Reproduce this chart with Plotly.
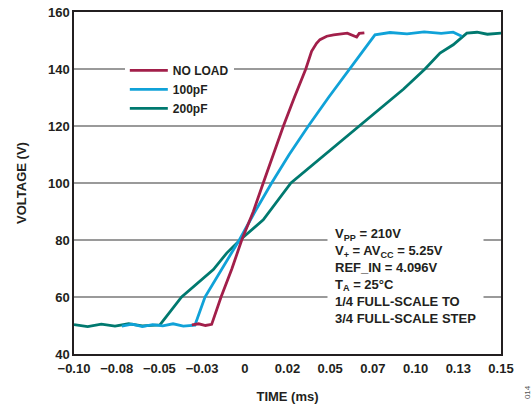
import plotly.graph_objects as go

# NO LOAD
t_noload = [-0.031, -0.027, -0.023, -0.0194, -0.0139, -0.0075, -0.0018, 0.005, 0.0108, 0.0165,
            0.0226, 0.029, 0.0357, 0.0391, 0.042, 0.044, 0.048, 0.052, 0.056, 0.060, 0.0655, 0.067, 0.070]
v_noload = [50.2, 50.6, 50.0, 50.4, 60, 70, 80, 90, 100, 110,
            120, 130, 140, 146.2, 149, 150.3, 151.5, 152, 152.3, 152.6, 151.2, 152.5, 152.7]

# 100pF
t_100pf = [-0.072, -0.066, -0.060, -0.054, -0.048, -0.042, -0.036, -0.0292, -0.0233, -0.013,
           -0.0032, 0.006, 0.0157, 0.026, 0.0372, 0.049, 0.0616, 0.069, 0.0762, 0.085,
           0.095, 0.105, 0.115, 0.122, 0.127]
v_100pf = [49.8, 50.5, 49.6, 50.3, 49.9, 50.6, 49.8, 50.1, 60, 70,
           80, 90, 100, 110, 120, 130, 140, 146, 152, 152.8,
           152.3, 153, 152.5, 152.9, 151.5]

# 200pF
t_200pf = [-0.100, -0.092, -0.084, -0.076, -0.068, -0.060, -0.0497, -0.037, -0.0184, -0.0106,
           -0.0028, 0.0108, 0.027, 0.047, 0.0665, 0.0792, 0.093, 0.1055, 0.1143, 0.122,
           0.130, 0.136, 0.142, 0.150]
v_200pf = [50.3, 49.6, 50.5, 49.8, 50.6, 49.9, 50.2, 60, 69.6, 75.4,
           80, 87.1, 100, 110, 120, 126.3, 133, 140, 145.6, 148.5,
           152.6, 152.9, 152.2, 152.6]

x_tickvals = [-0.1, -0.075, -0.05, -0.025, 0, 0.025, 0.05, 0.075, 0.1, 0.125, 0.15]
x_ticktext = ["−0.10", "−0.08", "−0.05", "−0.03", "0", "0.02", "0.05", "0.07", "0.10", "0.13", "0.15"]
y_tickvals = [40, 60, 80, 100, 120, 140, 160]

FONT = "Liberation Sans, Arial, sans-serif"
TXT = "#231F20"

fig = go.Figure()
fig.add_trace(go.Scatter(x=t_200pf, y=v_200pf, mode="lines", name="200pF",
                         line=dict(color="#00796F", width=2.8)))
fig.add_trace(go.Scatter(x=t_100pf, y=v_100pf, mode="lines", name="100pF",
                         line=dict(color="#10A2D8", width=2.8)))
fig.add_trace(go.Scatter(x=t_noload, y=v_noload, mode="lines", name="NO LOAD",
                         line=dict(color="#A21F4A", width=2.8)))

fig.update_layout(
    width=532, height=406,
    margin=dict(l=74, r=31, t=12, b=52),
    paper_bgcolor="white", plot_bgcolor="white",
    font=dict(family=FONT, size=13, color=TXT, weight="bold"),
    showlegend=True,
    legend=dict(x=0.119, y=0.872, xanchor="left", yanchor="top",
                bgcolor="white", borderwidth=0, traceorder="reversed",
                itemwidth=38, font=dict(size=12, family=FONT, color=TXT, weight="bold")),
    xaxis=dict(range=[-0.1, 0.15], tickvals=x_tickvals, ticktext=x_ticktext,
               showgrid=False, zeroline=False, ticks="", automargin=False, ticklabelstandoff=2,
               showline=True, linecolor="#231F20", linewidth=1.5, mirror=True,
               title=dict(text="TIME (ms)", font=dict(size=13, family=FONT, color=TXT, weight="bold"), standoff=17),
               tickfont=dict(size=13, family=FONT, color=TXT, weight="bold")),
    yaxis=dict(range=[40, 160], tickvals=y_tickvals, automargin=False,
               showgrid=True, gridcolor="#9A9A9A", gridwidth=1.5, zeroline=False, ticks="",
               showline=True, linecolor="#231F20", linewidth=1.5, mirror=True,
               title=dict(text="VOLTAGE (V)", font=dict(size=13, family=FONT, color=TXT, weight="bold"), standoff=18),
               tickfont=dict(size=13, family=FONT, color=TXT, weight="bold")),
)

fig.add_annotation(
    xref="paper", yref="y", x=0.592, y=67.5, xanchor="left", yanchor="middle",
    align="left", showarrow=False, bgcolor="white", borderpad=7,
    text=("V<sub>PP</sub> = 210V<br>V<sub>+</sub> = AV<sub>CC</sub> = 5.25V<br>REF_IN = 4.096V<br>"
          "T<sub>A</sub> = 25°C<br>1/4 FULL-SCALE TO<br>3/4 FULL-SCALE STEP"),
    font=dict(size=13, family=FONT, color=TXT, weight="bold"),
)

fig.add_annotation(
    xref="paper", yref="paper", x=1.062, y=-0.11, xanchor="center", yanchor="middle",
    showarrow=False, text="014", textangle=-90,
    font=dict(size=8, family=FONT, color="#555555", weight="normal"),
)

fig.write_html("out.html", config={"displayModeBar": False})
with open("out.html", "r", encoding="utf-8") as f:
    html = f.read()
html = html.replace("<head>", "<head><style>html,body{margin:0;padding:0;}</style>", 1)
with open("out.html", "w", encoding="utf-8") as f:
    f.write(html)
